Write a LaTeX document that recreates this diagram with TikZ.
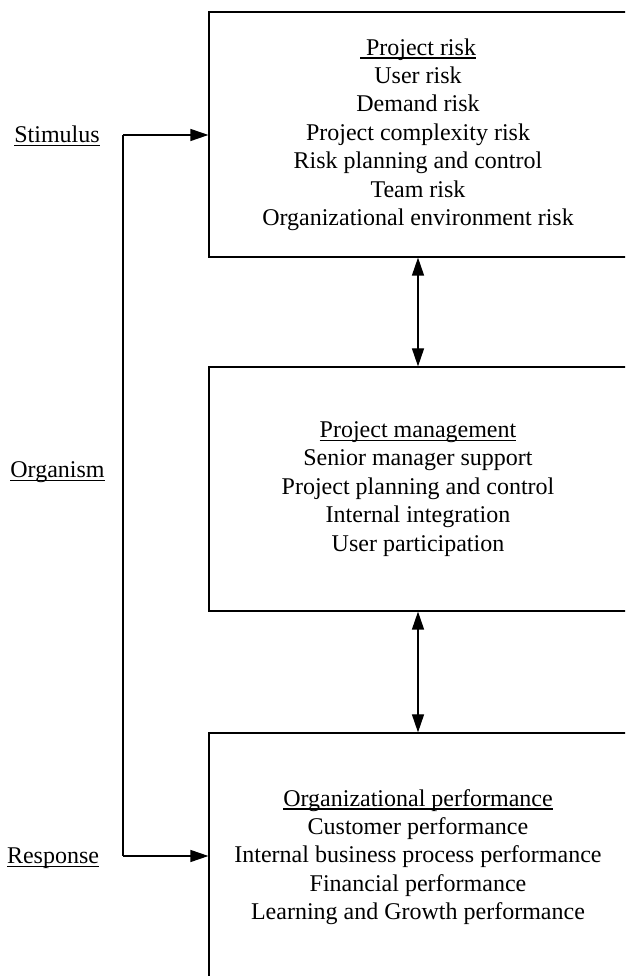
\documentclass[tikz,border=0pt]{standalone}
\usepackage{fontspec}
\setmainfont{Liberation Serif}
\usetikzlibrary{arrows.meta}
\newcommand\uln[1]{\setbox0\hbox{#1}\rlap{\rule[-3.5pt]{\wd0}{1.1pt}}\box0}
\tikzset{
  boxnode/.style={draw, line width=1.2pt, align=center, inner sep=0pt,
    font=\fontsize{24}{28.4}\selectfont},
  lab/.style={anchor=base, inner sep=0pt, font=\fontsize{24}{28.4}\selectfont},
  conn/.style={line width=1.2pt, -{Triangle[length=18pt,width=12pt]}},
  dconn/.style={line width=1.2pt, {Triangle[length=18pt,width=12pt]}-{Triangle[length=18pt,width=12pt]}}
}
\begin{document}
\begin{tikzpicture}[x=1pt,y=1pt]
\useasboundingbox (0,0) rectangle (625,976);
\clip (0,0) rectangle (625,976);
\node[boxnode, minimum width=418pt, minimum height=245pt] (risk) at (418,841.5)
  {\uln{\ Project risk}\\User risk\\Demand risk\\Project complexity risk\\Risk planning and control\\Team risk\\Organizational environment risk};
\node[boxnode, minimum width=418pt, minimum height=244pt] (mgmt) at (418,487)
  {\uln{Project management}\\Senior manager support\\Project planning and control\\Internal integration\\User participation};
\node[boxnode, minimum width=418pt, minimum height=248pt] (perf) at (418,119)
  {\uln{Organizational performance}\\Customer performance\\Internal business process performance\\Financial performance\\Learning and Growth performance};
\node[lab] (stim) at (57,833) {\uln{Stimulus}};
\node[lab] (org) at (57.5,498.7) {\uln{Organism}};
\node[lab] (resp) at (53,112) {\uln{Response}};
\coordinate (top) at (123,841);
\coordinate (bot) at (123,120);
\draw[line width=1.2pt] (top) -- (bot);
\draw[conn] (top) -- (risk.west |- top);
\draw[conn] (bot) -- (perf.west |- bot);
\draw[dconn] (risk.south) -- (mgmt.north);
\draw[dconn] (mgmt.south) -- (perf.north);
\end{tikzpicture}
\end{document}
